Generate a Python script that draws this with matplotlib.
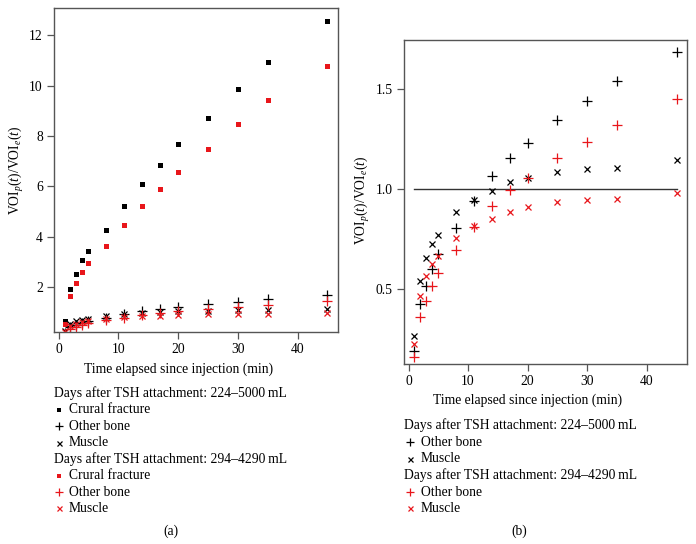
import matplotlib
matplotlib.use('Agg')
import matplotlib.pyplot as plt
from matplotlib.lines import Line2D

plt.rcParams['font.family'] = ['Liberation Serif', 'DejaVu Serif']
plt.rcParams['mathtext.fontset'] = 'custom'
plt.rcParams['mathtext.rm'] = 'Liberation Serif'
plt.rcParams['mathtext.it'] = 'Liberation Serif:italic'

# time points (min)
t = [1, 2, 3, 4, 5, 8, 11, 14, 17, 20, 25, 30, 35, 45]

# days after TSH attachment: 224-5000 mL
crural_a = [0.68, 1.92, 2.53, 3.07, 3.45, 4.27, 5.23, 6.10, 6.87, 7.69, 8.72, 9.85, 10.95, 12.57]
bone_a = [0.187, 0.423, 0.512, 0.598, 0.675, 0.805, 0.94, 1.067, 1.155, 1.228, 1.345, 1.44, 1.542, 1.687]
muscle_a = [0.262, 0.54, 0.653, 0.725, 0.77, 0.882, 0.945, 0.992, 1.033, 1.057, 1.083, 1.102, 1.107, 1.143]

# days after TSH attachment: 294-4290 mL
crural_b = [0.57, 1.66, 2.17, 2.63, 2.96, 3.65, 4.49, 5.23, 5.91, 6.59, 7.48, 8.46, 9.41, 10.79]
bone_b = [0.157, 0.36, 0.438, 0.513, 0.578, 0.692, 0.807, 0.912, 0.993, 1.053, 1.155, 1.235, 1.322, 1.448]
muscle_b = [0.223, 0.462, 0.562, 0.623, 0.662, 0.755, 0.812, 0.85, 0.885, 0.907, 0.932, 0.945, 0.95, 0.982]

RED = '#e8161b'
BLK = 'black'
EDGE = '#555555'
FS = 9.8

ylabel = r'VOI$_p$($t$)/VOI$_e$($t$)'
xlabel = 'Time elapsed since injection (min)'

fig = plt.figure(figsize=(6.96, 5.44), dpi=100)
W, H = 696., 544.

def axes_px(x0, y0, x1, y1):
    return fig.add_axes([x0 / W, 1 - y1 / H, (x1 - x0) / W, (y1 - y0) / H])

def style(ax):
    for s in ax.spines.values():
        s.set_color(EDGE)
        s.set_linewidth(1.0)
    ax.tick_params(direction='out', length=5, width=0.9, color=EDGE,
                   labelsize=FS, pad=3)
    ax.set_xlim(-0.76, 46.76)
    ax.set_xticks([0, 10, 20, 30, 40])

sq = dict(marker='s', ls='none', ms=3.6, mew=0)
pl = dict(marker='+', ls='none', ms=6.5, mew=0.9)
xx = dict(marker='x', ls='none', ms=4.2, mew=0.9)

# (a)
ax1 = axes_px(54, 8, 338, 332)
style(ax1)
ax1.plot(t, crural_a, color=BLK, **sq)
ax1.plot(t, crural_b, color=RED, **sq)
ax1.plot(t, bone_a, color=BLK, **pl)
ax1.plot(t, muscle_a, color=BLK, **xx)
ax1.plot(t, bone_b, color=RED, **pl)
ax1.plot(t, muscle_b, color=RED, **xx)
ax1.set_ylim(0.236, 13.07)
ax1.set_yticks([2, 4, 6, 8, 10, 12])
fig.text(17 / W, 1 - 170 / H, ylabel, rotation=90, ha='center', va='center', fontsize=FS)
fig.text(179 / W, 1 - 369 / H, xlabel, ha='center', va='center', fontsize=FS)

# (b)
ax2 = axes_px(404, 40, 687, 364)
style(ax2)
ax2.plot([t[0], t[-1]], [1, 1], color='#333333', lw=1.0)
ax2.plot(t, bone_a, color=BLK, **pl)
ax2.plot(t, muscle_a, color=BLK, **xx)
ax2.plot(t, bone_b, color=RED, **pl)
ax2.plot(t, muscle_b, color=RED, **xx)
ax2.set_ylim(0.124, 1.745)
ax2.set_yticks([0.5, 1.0, 1.5])
ax2.set_yticklabels(['0.5', '1.0', '1.5'])
fig.text(363 / W, 1 - 200 / H, ylabel, rotation=90, ha='center', va='center', fontsize=FS)
fig.text(528 / W, 1 - 400 / H, xlabel, ha='center', va='center', fontsize=FS)

# legend glyphs are a bit smaller than the plotted markers
lsq = dict(sq, ms=3.2)
lpl = dict(pl, ms=5.5)
lxx = dict(xx, ms=3.6)

def legend(x_head, x_mark, x_txt, rows):
    for kind, y, label, col in rows:
        if kind == 'head':
            fig.text(x_head / W, 1 - y / H, label, ha='left', va='center', fontsize=FS)
        else:
            st = {'s': lsq, '+': lpl, 'x': lxx}[kind]
            fig.add_artist(Line2D([x_mark / W], [1 - y / H], color=col,
                                  transform=fig.transFigure, **st))
            fig.text(x_txt / W, 1 - y / H, label, ha='left', va='center', fontsize=FS)

legend(54, 58.5, 69, [
    ('head', 393.5, 'Days after TSH attachment: 224\u20135000\u2009mL', BLK),
    ('s', 409.5, 'Crural fracture', BLK),
    ('+', 426, 'Other bone', BLK),
    ('x', 442.5, 'Muscle', BLK),
    ('head', 459, 'Days after TSH attachment: 294\u20134290\u2009mL', BLK),
    ('s', 475.5, 'Crural fracture', RED),
    ('+', 492, 'Other bone', RED),
    ('x', 508, 'Muscle', RED),
])
legend(404, 409.5, 421, [
    ('head', 425, 'Days after TSH attachment: 224\u20135000\u2009mL', BLK),
    ('+', 442, 'Other bone', BLK),
    ('x', 459, 'Muscle', BLK),
    ('head', 475.5, 'Days after TSH attachment: 294\u20134290\u2009mL', BLK),
    ('+', 492, 'Other bone', RED),
    ('x', 508, 'Muscle', RED),
])

fig.text(171 / W, 1 - 531 / H, '(a)', ha='center', va='center', fontsize=FS)
fig.text(519 / W, 1 - 531 / H, '(b)', ha='center', va='center', fontsize=FS)

fig.savefig('out.png', dpi=100)
